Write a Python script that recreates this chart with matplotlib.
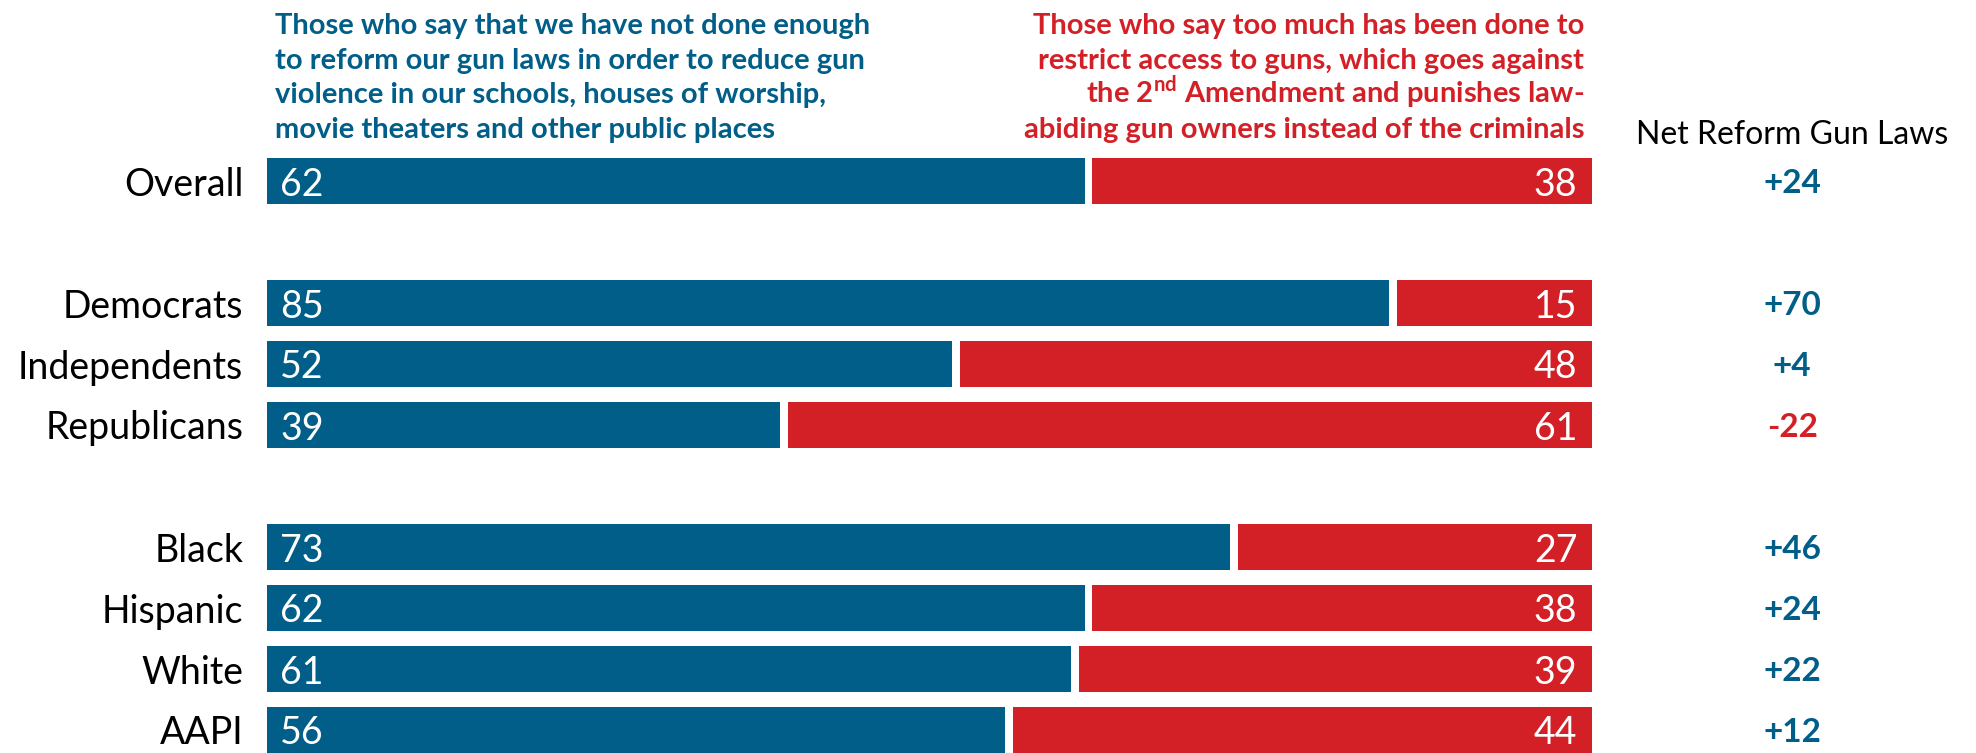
import numpy as np
import matplotlib
matplotlib.use("Agg")
import matplotlib.pyplot as plt

# data
groups = [
    ["Overall"],
    ["Democrats", "Independents", "Republicans"],
    ["Black", "Hispanic", "White", "AAPI"],
]
reform = [62, 85, 52, 39, 73, 62, 61, 56]
restrict = [38, 15, 48, 61, 27, 38, 39, 44]

blue_head = ["Those who say that we have not done enough",
             "to reform our gun laws in order to reduce gun",
             "violence in our schools, houses of worship,",
             "movie theaters and other public places"]
red_head = ["Those who say too much has been done to",
            "restrict access to guns, which goes against",
            r"the 2$^{\mathrm{nd}}$ Amendment and punishes law-",
            "abiding gun owners instead of the criminals"]
net_title = "Net Reform Gun Laws"

BLUE = "#005E89"
RED = "#D32027"

plt.rcParams['font.family'] = ['Lato', 'DejaVu Sans']
plt.rcParams['mathtext.fontset'] = 'custom'
plt.rcParams['mathtext.rm'] = 'Lato:bold'

# row positions: one blank row between groups
labels, ypos = [], []
k = 0
for g in groups:
    for name in g:
        labels.append(name)
        ypos.append(k)
        k += 1
    k += 1
ypos = np.array(ypos)

W, H = 1976, 753
fig = plt.figure(figsize=(W / 100, H / 100), dpi=100)
left_px, right_px = 267, 1592
ax = fig.add_axes([left_px / W, 0, (right_px - left_px) / W, 1])
ax.set_xlim(0, 100)
ax.set_ylim((H - 181) / 61, -181 / 61)
ax.axis('off')

gap = 0.3
ax.barh(ypos, np.array(reform) - gap, height=0.75, color=BLUE)
ax.barh(ypos, np.array(restrict) - gap, left=np.array(reform) + gap,
        height=0.75, color=RED)

for y, name, a, b in zip(ypos, labels, reform, restrict):
    ax.text(-1.8, y, name, ha='right', va='center_baseline', fontsize=27,
            color='black')
    ax.text(1.0, y, str(a), ha='left', va='center_baseline', fontsize=27,
            color='white')
    ax.text(98.9, y, str(b), ha='right', va='center_baseline', fontsize=27,
            color='white')
    net = a - b
    ax.text(115.1, y, "%+d" % net, ha='center', va='center_baseline',
            fontsize=24, fontweight='bold', color=BLUE if net >= 0 else RED)

# headers
base = [-2.41, -1.836, -1.279, -0.705]
for y, line in zip(base, blue_head):
    ax.text(0.6, y, line, ha='left', va='baseline', fontsize=21,
            fontweight='bold', color=BLUE)
for y, line in zip(base, red_head):
    ax.text(99.4, y, line, ha='right', va='baseline', fontsize=21,
            fontweight='bold', color=RED)
ax.text(115.1, -0.607, net_title, ha='center', va='baseline', fontsize=23,
        color='black')

fig.savefig("out.png", dpi=100, facecolor='white')
